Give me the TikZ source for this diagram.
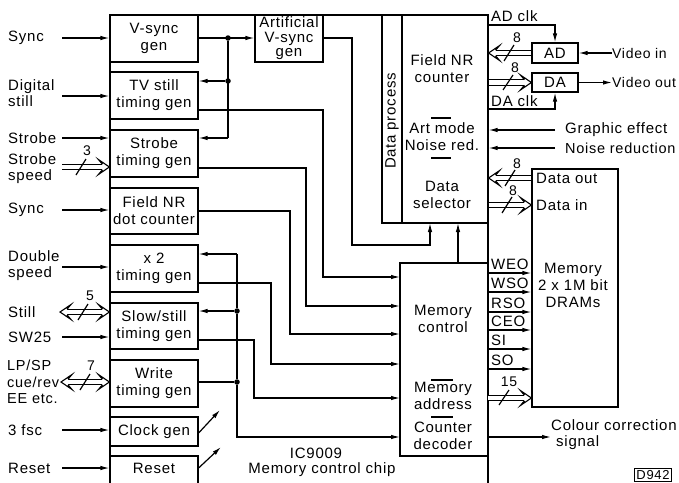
\documentclass[tikz,border=0pt]{standalone}
\usepackage{fontspec}
\setmainfont{Liberation Sans}[LetterSpace=5]
\usetikzlibrary{arrows.meta}
\begin{document}
\begin{tikzpicture}[x=1pt,y=-1pt,
  lbl/.style={font=\fontsize{15}{16}\selectfont, inner sep=0pt, align=left},
  btxt/.style={font=\fontsize{15}{17}\selectfont, inner sep=0pt, align=center},
  blk/.style={draw, line width=1.2pt, inner sep=0pt, align=center, font=\fontsize{15}{17}\selectfont},
  wire/.style={line width=1.2pt},
  arr/.style={line width=1.2pt, -{Latex[length=9pt,width=4.5pt]}},
  bus/.style={double, double distance=4.5pt, line width=1.1pt},
  busE/.style={bus, shorten >=7pt},
  busBE/.style={bus, shorten >=7pt, shorten <=7pt},
  bushead/.pic={\filldraw[fill=white, line width=1.1pt, line join=miter]
      (-7,-2.8) -- (-11,-7.5) -- (0,0) -- (-11,7.5) -- (-7,2.8);},
  dot/.style={circle, fill, inner sep=0pt, minimum size=5.5pt},
  num/.style={font=\fontsize{14}{14}\selectfont, inner sep=0pt},
]
\useasboundingbox (0,0) rectangle (679,482);

% ---------- left blocks ----------
\node[blk, minimum width=88pt, minimum height=47pt] (vs) at (154,38.5) {V-sync\\gen};
\node[blk, minimum width=88pt, minimum height=47pt] (tv) at (154,95.5) {TV still\\timing gen};
\node[blk, minimum width=88pt, minimum height=47pt] (st) at (154,153.5) {Strobe\\timing gen};
\node[blk, minimum width=88pt, minimum height=46pt] (fd) at (154,211) {Field NR\\dot counter};
\node[blk, minimum width=88pt, minimum height=47pt] (xt) at (154,268.5) {x 2\\timing gen};
\node[blk, minimum width=88pt, minimum height=46pt] (ss) at (154,326) {Slow/still\\timing gen};
\node[blk, minimum width=88pt, minimum height=47pt] (wt) at (154,383.5) {Write\\timing gen};
\node[blk, minimum width=88pt, minimum height=29pt] (cg) at (154,431.5) {Clock gen};
\node[blk, minimum width=88pt, minimum height=34pt] (rs) at (154,473) {};
\node[btxt] (rst) at (154,468) {Reset};

% ---------- chip outline ----------
\draw[line width=2pt] (110,490) -- (110,15) -- (488,15) -- (488,490);

% ---------- inner blocks ----------
\node[blk, minimum width=68pt, minimum height=47pt, font=\fontsize{15}{14.5}\selectfont] (av) at (289,38.5) {Artificial\\V-sync\\gen};
\node[blk, minimum width=106pt, minimum height=208pt] (dp) at (435,119) {};
\node[blk, minimum width=86pt, minimum height=208pt] (ds) at (445,119) {};
\node[btxt, rotate=90] (dpt) at (392,121) {Data process};
\node[btxt] (fnr) at (442,69) {Field NR\\counter};
\node[btxt] (art) at (442,136.5) {Art mode\\Noise red.};
\node[btxt] (dsel) at (442,195) {Data\\selector};
\draw[wire] (431,118) -- (451,118);
\draw[wire] (431,158) -- (451,158);

\node[blk, minimum width=88pt, minimum height=193pt] (mc) at (444,359.5) {};
\node[btxt] (mct1) at (443,319) {Memory\\control};
\node[btxt] (mct2) at (443,396) {Memory\\address};
\node[btxt] (mct3) at (443,436) {Counter\\decoder};
\draw[wire] (431,380) -- (453,380);
\draw[wire] (431,417) -- (453,417);

\node[btxt] (ic) at (316,453) {IC9009};
\node[btxt] (icn) at (322,470) {Memory control chip};

% ---------- right blocks ----------
\node[blk, minimum width=86pt, minimum height=238pt] (mem) at (575,288) {};
\node[btxt] (memt) at (573,285) {Memory\\2 x 1M bit\\DRAMs};
\node[blk, minimum width=46pt, minimum height=20pt] (ad) at (555,53) {AD};
\node[blk, minimum width=46pt, minimum height=19pt] (da) at (555,82.5) {DA};

% ---------- left inputs ----------
\node[lbl, anchor=west] (iSync) at (8,38) {Sync};
\coordinate (cSync) at (62,38);
\draw[arr] (cSync) -- (vs.west |- cSync);

\node[lbl, anchor=west] (iDig) at (8,93) {Digital\\still};
\coordinate (cDig) at (62,96);
\draw[arr] (cDig) -- (tv.west |- cDig);

\node[lbl, anchor=west] (iStr) at (8,138) {Strobe};
\coordinate (cStr) at (62,138);
\draw[arr] (cStr) -- (st.west |- cStr);

\node[lbl, anchor=west] (iSsp) at (8,169) {Strobe\\speed};
\coordinate (cSsp) at (62,167);
\draw[busE] (cSsp) -- (st.west |- cSsp);
\pic at (st.west |- cSsp) {bushead};
\node[num] (n3) at (87,151) {3};
\draw[wire] (76,175) -- (86,159);

\node[lbl, anchor=west] (iSync2) at (8,210) {Sync};
\coordinate (cSync2) at (62,210);
\draw[arr] (cSync2) -- (fd.west |- cSync2);

\node[lbl, anchor=west] (iDbl) at (8,266) {Double\\speed};
\coordinate (cDbl) at (62,267);
\draw[arr] (cDbl) -- (xt.west |- cDbl);

\node[lbl, anchor=west] (iStill) at (8,312) {Still};
\coordinate (cStill) at (60,312);
\draw[busBE] (cStill) -- (ss.west |- cStill);
\pic at (ss.west |- cStill) {bushead};
\pic[rotate=180] at (cStill) {bushead};
\node[num] (n5) at (90,296) {5};
\draw[wire] (78,320) -- (88,304);

\node[lbl, anchor=west] (iSw) at (8,337) {SW25};
\coordinate (cSw) at (62,337);
\draw[arr] (cSw) -- (ss.west |- cSw);

\node[lbl, anchor=west, font=\fontsize{14.5}{16.5}\selectfont] (iLp) at (7,382) {LP/SP\\cue/rev\\EE etc.};
\coordinate (cLp) at (61,382);
\draw[busBE] (cLp) -- (wt.west |- cLp);
\pic at (wt.west |- cLp) {bushead};
\pic[rotate=180] at (cLp) {bushead};
\node[num] (n7) at (91,366) {7};
\draw[wire] (80,390) -- (90,374);

\node[lbl, anchor=west] (iFsc) at (8,430) {3 fsc};
\coordinate (cFsc) at (62,430);
\draw[arr] (cFsc) -- (cg.west |- cFsc);

\node[lbl, anchor=west] (iRst) at (8,468) {Reset};
\coordinate (cRst) at (62,468);
\draw[arr] (cRst) -- (rs.west |- cRst);

% ---------- internal wiring (left) ----------
\node[dot] (j1) at (228,38) {};
\node[dot] (j2) at (228,81) {};
\coordinate (c1) at (228,138);
\draw[arr] (vs.east |- j1) -- (av.west |- j1);
\draw[wire] (j1) -- (c1);
\draw[arr] (c1) -- (st.east |- c1);
\draw[arr] (j2) -- (tv.east |- j2);

\coordinate (t1) at (323,110); \coordinate (m1) at (400,277);
\draw[arr] (tv.east |- t1) -- (t1) |- (m1);
\coordinate (t2) at (306,168); \coordinate (m2) at (400,306);
\draw[arr] (st.east |- t2) -- (t2) |- (m2);
\coordinate (t3) at (290,211); \coordinate (m3) at (400,334);
\draw[arr] (fd.east |- t3) -- (t3) |- (m3);
\coordinate (t4) at (271,283); \coordinate (m4) at (400,364);
\draw[arr] (xt.east |- t4) -- (t4) |- (m4);
\coordinate (t5) at (254,340); \coordinate (m5) at (400,398);
\draw[arr] (ss.east |- t5) -- (t5) |- (m5);

\node[dot] (j3) at (237,311) {};
\node[dot] (j4) at (237,382) {};
\coordinate (t6) at (237,254); \coordinate (m6) at (400,437);
\draw[arr] (t6) -- (xt.east |- t6);
\draw[wire] (t6) -- (j3) -- (j4);
\draw[arr] (j3) -- (ss.east |- j3);
\draw[wire] (wt.east |- j4) -- (j4);
\draw[arr] (j4) |- (m6);

\coordinate (t7) at (352,38); \coordinate (t8) at (352,245); \coordinate (d1) at (430,223);
\draw[arr] (av.east |- t7) -- (t7) -- (t8) -| (d1);
\coordinate (d2) at (458,223);
\draw[arr] (mc.north -| d2) -- (d2);

\coordinate (k1) at (220,410);
\draw[arr] ([yshift=-1.5pt]cg.east) -- (k1);
\coordinate (k2) at (221,447);
\draw[arr] (rs.east |- rst) -- (k2);

% ---------- right side ----------
\coordinate (adc) at (488,25);
\node[lbl, anchor=west] (adcl) at (491,16) {AD clk};
\draw[arr] (adc) -| (ad.north);
\coordinate (dac) at (488,109);
\node[lbl, anchor=west] (dacl) at (491,101) {DA clk};
\draw[arr] (dac) -| (da.south);

\node[lbl, anchor=west, font=\fontsize{14}{16}\selectfont] (vin) at (612,53) {Video in};
\draw[arr] (vin.west) -- (ad.east);
\node[lbl, anchor=west, font=\fontsize{14}{16}\selectfont] (vout) at (612,82.5) {Video out};
\draw[arr] (da.east) -- (vout.west);

\draw[busE] (ad.west) -- (ds.east |- ad.west);
\pic[rotate=180] at (ds.east |- ad.west) {bushead};
\node[num] (n8a) at (517,38) {8};
\draw[wire] (504,61) -- (514,45);
\draw[busE] (ds.east |- da.west) -- (da.west);
\pic at (da.west) {bushead};
\node[num] (n8b) at (515,68) {8};
\draw[wire] (503,90) -- (513,75);

\node[lbl, anchor=west] (ge) at (565,130) {Graphic effect};
\draw[arr] ([xshift=-10pt]ge.west) -- (ds.east |- ge.west);
\node[lbl, anchor=west, font=\fontsize{14.5}{16}\selectfont] (nr) at (565,148) {Noise reduction};
\draw[arr] ([xshift=-10pt]nr.west) -- (ds.east |- nr.west);

\node[lbl, anchor=west] (dout) at (536,178) {Data out};
\draw[busE] (mem.west |- dout.west) -- (ds.east |- dout.west);
\pic[rotate=180] at (ds.east |- dout.west) {bushead};
\node[num] (n8c) at (517,164) {8};
\draw[wire] (505,186) -- (515,170);
\node[lbl, anchor=west] (din) at (536,205) {Data in};
\draw[busE] (ds.east |- din.west) -- (mem.west |- din.west);
\pic at (mem.west |- din.west) {bushead};
\node[num] (n8d) at (513,191) {8};
\draw[wire] (502,213) -- (512,197);

\foreach \nm/\yy in {WEO/273, WSO/292, RSO/312, CEO/330, SI/349, SO/369} {
  \coordinate (s\nm) at (488,\yy);
  \node[lbl, anchor=west] (l\nm) at (491,\yy-8.5) {\nm};
  \draw[arr] (s\nm) -- (mem.west |- s\nm);
}

\coordinate (b15) at (488,398);
\draw[busE] (b15) -- (mem.west |- b15);
\pic at (mem.west |- b15) {bushead};
\node[num] (n15) at (509,382) {15};
\draw[wire] (499,405) -- (509,390);

\coordinate (ccs) at (488,437);
\node[lbl, anchor=west] (cc) at (551,435) {Colour correction\\\hspace*{5pt}signal};
\draw[arr] (ccs) -- (cc.west |- ccs);

\node[draw, line width=0.9pt, inner sep=1.8pt, font=\fontsize{13}{13}\selectfont] (dlab) at (653,475) {D942};
\end{tikzpicture}
\end{document}
